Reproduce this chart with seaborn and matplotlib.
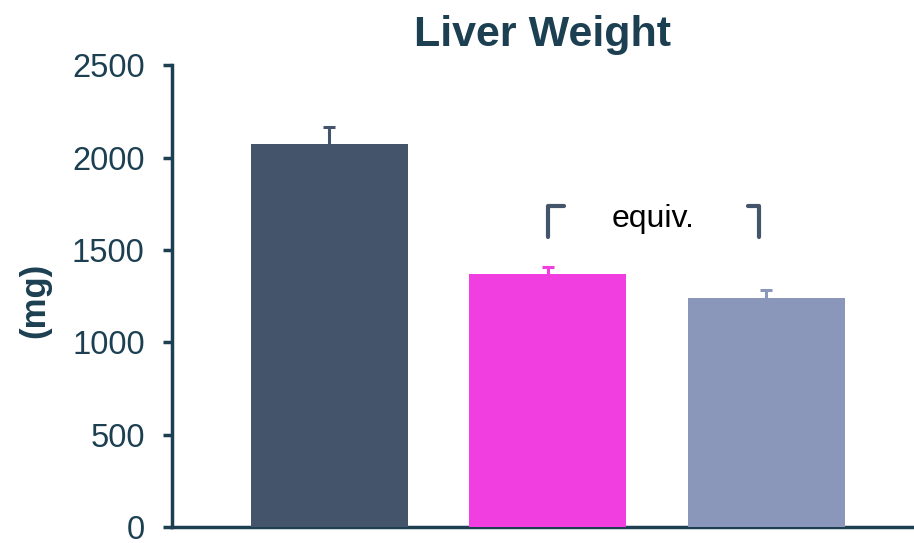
"""
    Liver Weight - bar chart with upper error bars (seaborn)
"""

import pandas as pd
import matplotlib
matplotlib.use("Agg")
import matplotlib.pyplot as plt
import seaborn as sns

# Donnees
groups = ["Group A", "Group B", "Group C"]
weights = [2072, 1369, 1240]
errors = [92, 38, 42]
bar_colors = ["#44546a", "#f13ee1", "#8a97ba"]

INK = "#1c3f52"

sns.set_style("white")
plt.rcParams['font.family'] = ['Liberation Sans', 'DejaVu Sans']

df = pd.DataFrame({"group": groups, "weight": weights})

fig = plt.figure(figsize=(9.14, 5.43), dpi=100)
ax = fig.add_axes([0.188, 0.0295, 0.81, 0.8505])

sns.barplot(data=df, x="group", y="weight", hue="group", palette=bar_colors,
            errorbar=None, width=0.72, saturation=1, legend=False, ax=ax,
            linewidth=0, zorder=3)

# Barres d'erreur (vers le haut seulement)
for i, (w, e, c) in enumerate(zip(weights, errors, bar_colors)):
    _, caps, _ = ax.errorbar(i, w, yerr=[[0], [e]], fmt="none", ecolor=c,
                             elinewidth=2.2, capsize=4.5, capthick=2.2, zorder=2)
    for cap in caps:
        if abs(cap.get_ydata()[0] - w) < 1:
            cap.set_visible(False)

# Crochets "equiv."
y_top, y_bot = 1735, 1570
ax.plot([1.0, 1.0, 1.075], [y_bot, y_top, y_top], color="#44546a",
        lw=3, solid_capstyle="round", solid_joinstyle="round", zorder=4)
ax.plot([1.915, 1.965, 1.965], [y_top, y_top, y_bot], color="#44546a",
        lw=3, solid_capstyle="round", solid_joinstyle="round", zorder=4)
ax.text(1.48, 1665, "equiv.", ha="center", va="center", fontsize=23, color="black")

ax.set_xlim(-0.72, 2.667)
ax.set_ylim(0, 2500)
ax.set_yticks([0, 500, 1000, 1500, 2000, 2500])
ax.set_xticks([])
ax.set_xlabel("")

ax.set_title("Liver Weight", fontsize=31, fontweight="bold", color=INK, pad=14)
ax.set_ylabel("(mg)", fontsize=25, fontweight="bold", color=INK)
ax.yaxis.set_label_coords(-0.185, 0.49)
ax.yaxis.label.set_verticalalignment("center")

for side in ["top", "right"]:
    ax.spines[side].set_visible(False)
for side in ["left", "bottom"]:
    ax.spines[side].set_color(INK)
    ax.spines[side].set_linewidth(2.5)

ax.tick_params(axis="y", direction="out", length=6.5, width=2.5, color=INK,
               labelsize=23.5, labelcolor=INK, pad=13, left=True)

plt.savefig("out.png", dpi=100)
plt.close()
